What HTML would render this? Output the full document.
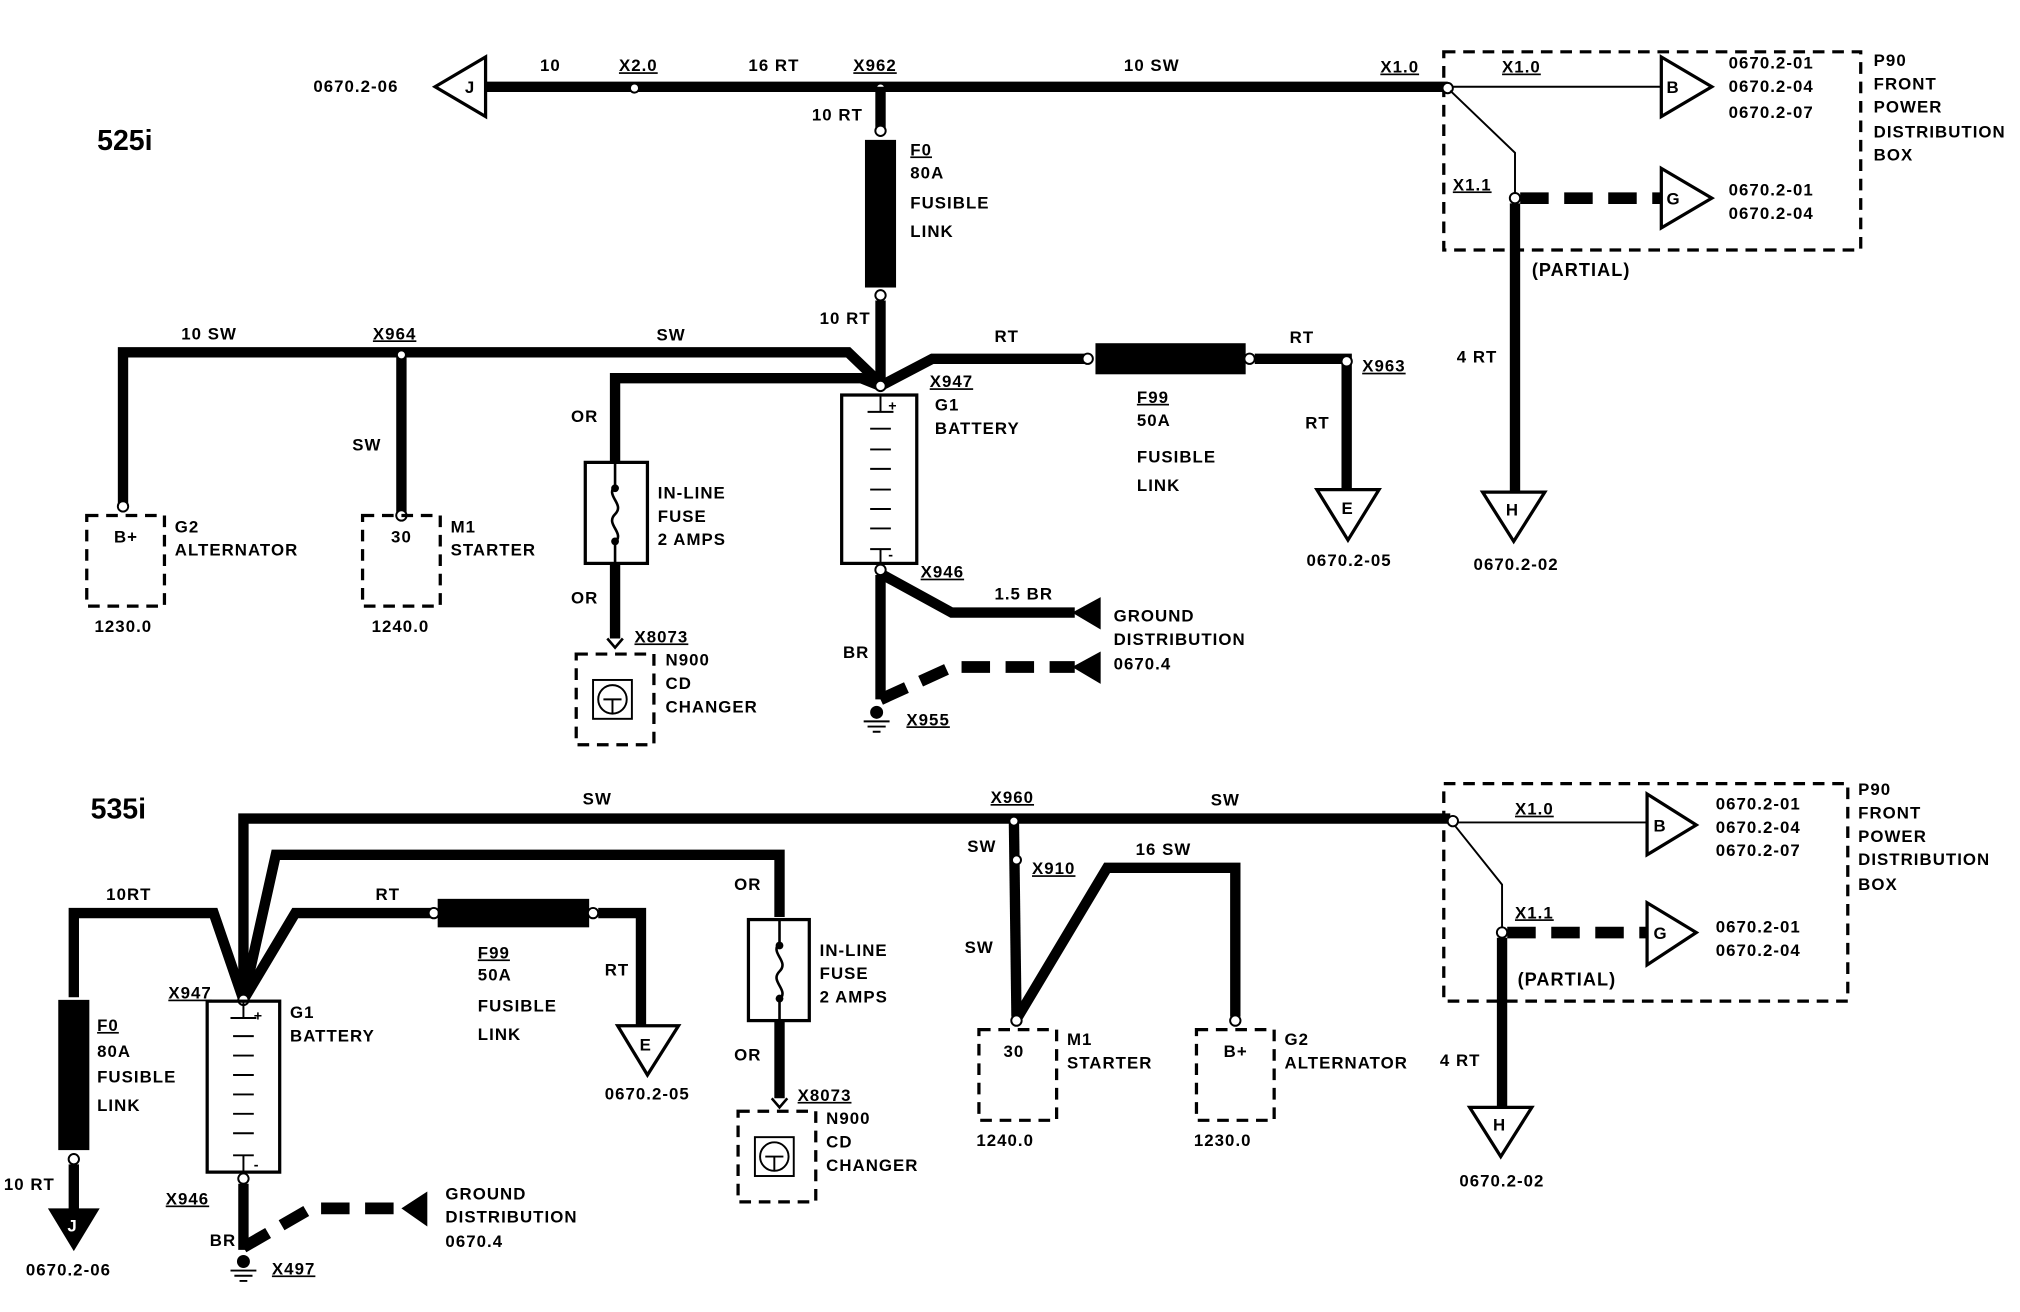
<!DOCTYPE html>
<html><head><meta charset="utf-8"><style>
html,body{margin:0;padding:0;background:#fff;}
svg{display:block;}
text{font-family:"Liberation Sans",Arial,sans-serif;font-size:13px;font-weight:bold;fill:#000;letter-spacing:0.8px;}
.u{text-decoration:underline;}
.w{stroke:#000;stroke-width:8;fill:none;stroke-linejoin:miter;}
.t{stroke:#000;stroke-width:1.5;fill:none;}
.d{stroke:#000;stroke-width:2.5;fill:none;stroke-dasharray:9 6;}
.dw{stroke:#000;stroke-width:9;fill:none;stroke-dasharray:22 12;}
.o{stroke:#000;stroke-width:2.5;fill:#fff;}
.c{stroke:#000;stroke-width:1.5;fill:#fff;}
.big{font-size:22px;letter-spacing:0;}
</style></head><body>
<svg width="2020" height="1312" viewBox="0 0 1560 1013" preserveAspectRatio="none" xmlns="http://www.w3.org/2000/svg">
<rect width="1560" height="1013" fill="#fff"/>
<!-- ================= 525i ================= -->
<text x="75" y="116" class="big">525i</text>
<polygon points="336,67 375,44 375,90" class="o"/><text x="359" y="72">J</text>
<text x="242" y="71">0670.2-06</text>
<line x1="375" y1="67" x2="1118" y2="67" class="w"/>
<circle cx="490" cy="68" r="3.5" class="c"/><circle cx="680" cy="68" r="3.5" class="c"/>
<text x="417" y="55">10</text><text x="478" y="55" class="u">X2.0</text>
<text x="578" y="55">16 RT</text><text x="659" y="55" class="u">X962</text>
<text x="868" y="55">10 SW</text><text x="1066" y="56" class="u">X1.0</text>
<line x1="680" y1="67" x2="680" y2="100" class="w"/><circle cx="680" cy="101" r="4" class="c"/>
<text x="627" y="93">10 RT</text>
<rect x="668" y="108" width="24" height="114" fill="#000"/>
<circle cx="680" cy="228" r="4" class="c"/>
<line x1="680" y1="232" x2="680" y2="298" class="w"/>
<text x="633" y="250">10 RT</text>
<text x="703" y="120" class="u">F0</text><text x="703" y="138">80A</text><text x="703" y="161">FUSIBLE</text><text x="703" y="183">LINK</text>
<!-- left wires -->
<polyline points="95,390 95,272 655,272 680,296" class="w"/>
<line x1="310" y1="272" x2="310" y2="396" class="w"/>
<circle cx="310" cy="274" r="3.5" class="c"/><circle cx="95" cy="391" r="4" class="c"/><circle cx="310" cy="398" r="4" class="c"/>
<polyline points="475,357 475,292 665,292 680,298" class="w"/>
<polyline points="680,298 720,277 840,277" class="w"/>
<circle cx="840" cy="277" r="4" class="c"/>
<rect x="846" y="265" width="116" height="24" fill="#000"/>
<circle cx="965" cy="277" r="4" class="c"/>
<polyline points="969,277 1040,277 1040,380" class="w"/>
<circle cx="1040" cy="279" r="4" class="c"/>
<circle cx="680" cy="298" r="4" class="c"/>
<text x="140" y="262">10 SW</text><text x="288" y="262" class="u">X964</text><text x="507" y="263">SW</text>
<text x="768" y="264">RT</text><text x="996" y="265">RT</text><text x="1052" y="287" class="u">X963</text>
<text x="1008" y="331">RT</text>
<text x="878" y="311" class="u">F99</text><text x="878" y="329">50A</text><text x="878" y="357">FUSIBLE</text><text x="878" y="379">LINK</text>
<text x="272" y="348">SW</text><text x="441" y="326">OR</text><text x="441" y="466">OR</text>
<!-- alternator / starter -->
<rect x="67" y="398" width="60" height="70" class="d"/>
<text x="88" y="419">B+</text><text x="135" y="411">G2</text><text x="135" y="429">ALTERNATOR</text><text x="73" y="488">1230.0</text>
<rect x="280" y="398" width="60" height="70" class="d"/>
<text x="302" y="419">30</text><text x="348" y="411">M1</text><text x="348" y="429">STARTER</text><text x="287" y="488">1240.0</text>
<!-- inline fuse -->
<rect x="452" y="357" width="48" height="78" class="t" style="stroke-width:2.5"/>
<path d="M475,357 V375 c-8,8 8,14 0,22 c-8,8 8,14 0,22 V435" class="t" style="stroke-width:2"/>
<circle cx="475" cy="377" r="3" fill="#000"/><circle cx="475" cy="418" r="3" fill="#000"/>
<text x="508" y="385">IN-LINE</text><text x="508" y="403">FUSE</text><text x="508" y="421">2 AMPS</text>
<line x1="475" y1="435" x2="475" y2="493" class="w"/>
<path d="M469,493 L475,500 L481,493" class="t" style="stroke-width:2"/>
<text x="490" y="496" class="u">X8073</text>
<rect x="445" y="505" width="60" height="70" class="d"/>
<rect x="458" y="525" width="30" height="30" class="t"/><circle cx="473" cy="540" r="11" class="t"/>
<path d="M466,540 H480 M473,540 V551" class="t"/>
<text x="514" y="514">N900</text><text x="514" y="532">CD</text><text x="514" y="550">CHANGER</text>
<!-- battery -->
<rect x="650" y="305" width="58" height="130" class="t" style="stroke-width:2.5"/>
<path d="M680,305 V318 M670,318 H690 M672,331 H688 M672,347 H688 M672,362 H688 M672,378 H688 M672,393 H688 M672,408 H688 M672,424 H688 M680,424 V435" class="t"/>
<text x="686" y="317" style="font-size:11px">+</text><text x="686" y="432" style="font-size:11px">-</text>
<text x="718" y="299" class="u">X947</text><text x="722" y="317">G1</text><text x="722" y="335">BATTERY</text>
<circle cx="680" cy="440" r="4" class="c"/>
<text x="711" y="446" class="u">X946</text>
<polyline points="680,444 680,540" class="w"/>
<polyline points="682,444 735,473 830,473" class="w"/>
<polyline points="680,540 735,515 830,515" class="dw"/>
<polygon points="828,473 850,461 850,486" fill="#000"/><polygon points="828,515 850,503 850,528" fill="#000"/>
<circle cx="677" cy="550" r="5" fill="#000"/>
<path d="M667,557 H687 M670,561 H684 M674,565 H680" class="t"/>
<text x="768" y="463">1.5 BR</text><text x="651" y="508">BR</text><text x="700" y="560" class="u">X955</text>
<text x="860" y="480">GROUND</text><text x="860" y="498">DISTRIBUTION</text><text x="860" y="517">0670.4</text>
<!-- P90 top -->
<rect x="1115" y="40" width="322" height="153" class="d"/>
<circle cx="1118" cy="68" r="4" class="c"/>
<line x1="1122" y1="67" x2="1283" y2="67" class="t"/>
<polygon points="1283,44 1322,67 1283,90" class="o"/><text x="1287" y="72">B</text>
<text x="1160" y="56" class="u">X1.0</text>
<polyline points="1120,70 1170,118 1170,150" class="t"/>
<line x1="1174" y1="153" x2="1283" y2="153" class="dw"/>
<circle cx="1170" cy="153" r="4" class="c"/>
<polygon points="1283,130 1322,153 1283,176" class="o"/><text x="1287" y="158">G</text>
<text x="1122" y="147" class="u">X1.1</text>
<text x="1335" y="53">0670.2-01</text><text x="1335" y="71">0670.2-04</text><text x="1335" y="91">0670.2-07</text>
<text x="1335" y="151">0670.2-01</text><text x="1335" y="169">0670.2-04</text>
<text x="1447" y="51">P90</text><text x="1447" y="69">FRONT</text><text x="1447" y="87">POWER</text><text x="1447" y="106">DISTRIBUTION</text><text x="1447" y="124">BOX</text>
<line x1="1170" y1="157" x2="1170" y2="380" class="w"/>
<polygon points="1145,380 1193,380 1169,418" class="o"/><text x="1163" y="398">H</text>
<text x="1183" y="213" style="font-size:14px">(PARTIAL)</text>
<text x="1125" y="280">4 RT</text><text x="1138" y="440">0670.2-02</text>
<polygon points="1017,378 1065,378 1041,417" class="o"/><text x="1036" y="397">E</text>
<text x="1009" y="437">0670.2-05</text>
<!-- ================= 535i ================= -->
<text x="70" y="632" class="big">535i</text>
<polyline points="188,772 188,632 1120,632" class="w"/>
<circle cx="1122" cy="634" r="4" class="c"/>
<text x="450" y="621">SW</text><text x="935" y="622">SW</text><text x="765" y="620" class="u">X960</text>
<polyline points="57,770 57,705 165,705 188,772" class="w"/>
<polyline points="188,772 213,660 602,660 602,708" class="w"/>
<polyline points="188,772 228,705 335,705" class="w"/>
<circle cx="335" cy="705" r="4" class="c"/>
<rect x="338" y="694" width="117" height="22" fill="#000"/>
<circle cx="458" cy="705" r="4" class="c"/>
<polyline points="462,705 495,705 495,792" class="w"/>
<circle cx="188" cy="772" r="4" class="c"/>
<text x="82" y="695">10RT</text><text x="290" y="695">RT</text><text x="467" y="753">RT</text>
<text x="369" y="740" class="u">F99</text><text x="369" y="757">50A</text><text x="369" y="781">FUSIBLE</text><text x="369" y="803">LINK</text>
<polygon points="477,792 524,792 500,830" class="o"/><text x="494" y="811">E</text>
<text x="467" y="849">0670.2-05</text>
<!-- F0 left -->
<rect x="45" y="772" width="24" height="116" fill="#000"/>
<circle cx="57" cy="895" r="4" class="c"/>
<line x1="57" y1="899" x2="57" y2="935" class="w"/>
<polygon points="37,933 77,933 57,966" fill="#000"/><text x="52" y="951" style="fill:#fff">J</text>
<text x="75" y="796" class="u">F0</text><text x="75" y="816">80A</text><text x="75" y="836">FUSIBLE</text><text x="75" y="858">LINK</text>
<text x="3" y="919">10 RT</text><text x="20" y="985">0670.2-06</text>
<!-- battery 2 -->
<rect x="160" y="773" width="56" height="132" class="t" style="stroke-width:2.5"/>
<path d="M188,773 V786 M178,786 H198 M180,800 H196 M180,815 H196 M180,830 H196 M180,845 H196 M180,860 H196 M180,875 H196 M180,892 H196 M188,892 V905" class="t"/>
<text x="196" y="788" style="font-size:11px">+</text><text x="196" y="903" style="font-size:11px">-</text>
<text x="130" y="771" class="u">X947</text><text x="224" y="786">G1</text><text x="224" y="804">BATTERY</text>
<circle cx="188" cy="910" r="4" class="c"/>
<text x="128" y="930" class="u">X946</text>
<line x1="188" y1="914" x2="188" y2="965" class="w"/>
<polyline points="188,963 240,933 312,933" class="dw"/>
<polygon points="310,933 330,920 330,947" fill="#000"/>
<circle cx="188" cy="974" r="5" fill="#000"/>
<path d="M178,981 H198 M181,985 H195 M185,989 H191" class="t"/>
<text x="162" y="962">BR</text><text x="210" y="984" class="u">X497</text>
<text x="344" y="926">GROUND</text><text x="344" y="944">DISTRIBUTION</text><text x="344" y="963">0670.4</text>
<!-- inline fuse 2 -->
<rect x="578" y="710" width="47" height="78" class="t" style="stroke-width:2.5"/>
<path d="M602,710 V728 c-8,8 8,14 0,22 c-8,8 8,14 0,22 V788" class="t" style="stroke-width:2"/>
<circle cx="602" cy="730" r="3" fill="#000"/><circle cx="602" cy="771" r="3" fill="#000"/>
<text x="567" y="687">OR</text><text x="567" y="819">OR</text>
<text x="633" y="738">IN-LINE</text><text x="633" y="756">FUSE</text><text x="633" y="774">2 AMPS</text>
<line x1="602" y1="788" x2="602" y2="848" class="w"/>
<path d="M596,848 L602,855 L608,848" class="t" style="stroke-width:2"/>
<text x="616" y="850" class="u">X8073</text>
<rect x="570" y="858" width="60" height="70" class="d"/>
<rect x="583" y="878" width="30" height="30" class="t"/><circle cx="598" cy="893" r="11" class="t"/>
<path d="M591,893 H605 M598,893 V904" class="t"/>
<text x="638" y="868">N900</text><text x="638" y="886">CD</text><text x="638" y="904">CHANGER</text>
<!-- starter/alt 2 -->
<line x1="783" y1="632" x2="785" y2="785" class="w"/>
<circle cx="783" cy="634" r="3.5" class="c"/>
<circle cx="785" cy="664" r="3.5" class="c"/>
<polyline points="785,787 855,670 954,670 954,785" class="w"/>
<circle cx="785" cy="788" r="4" class="c"/><circle cx="954" cy="788" r="4" class="c"/>
<text x="747" y="658">SW</text><text x="797" y="675" class="u">X910</text><text x="877" y="660">16 SW</text><text x="745" y="736">SW</text>
<rect x="756" y="795" width="60" height="70" class="d"/>
<text x="775" y="816">30</text><text x="824" y="807">M1</text><text x="824" y="825">STARTER</text><text x="754" y="885">1240.0</text>
<rect x="924" y="795" width="60" height="70" class="d"/>
<text x="945" y="816">B+</text><text x="992" y="807">G2</text><text x="992" y="825">ALTERNATOR</text><text x="922" y="885">1230.0</text>
<!-- P90 bottom -->
<rect x="1115" y="605" width="312" height="168" class="d"/>
<line x1="1126" y1="635" x2="1272" y2="635" class="t"/>
<polygon points="1272,613 1310,637 1272,660" class="o"/><text x="1277" y="642">B</text>
<text x="1170" y="629" class="u">X1.0</text>
<polyline points="1124,638 1160,683 1160,717" class="t"/>
<line x1="1164" y1="720" x2="1272" y2="720" class="dw"/>
<circle cx="1160" cy="720" r="4" class="c"/>
<polygon points="1272,697 1310,720 1272,745" class="o"/><text x="1277" y="725">G</text>
<text x="1170" y="709" class="u">X1.1</text>
<text x="1325" y="625">0670.2-01</text><text x="1325" y="643">0670.2-04</text><text x="1325" y="661">0670.2-07</text>
<text x="1325" y="720">0670.2-01</text><text x="1325" y="738">0670.2-04</text>
<text x="1435" y="614">P90</text><text x="1435" y="632">FRONT</text><text x="1435" y="650">POWER</text><text x="1435" y="668">DISTRIBUTION</text><text x="1435" y="687">BOX</text>
<line x1="1160" y1="724" x2="1160" y2="855" class="w"/>
<polygon points="1135,855 1183,855 1159,893" class="o"/><text x="1153" y="873">H</text>
<text x="1172" y="761" style="font-size:14px">(PARTIAL)</text>
<text x="1112" y="823">4 RT</text><text x="1127" y="916">0670.2-02</text>
</svg>
</body></html>
